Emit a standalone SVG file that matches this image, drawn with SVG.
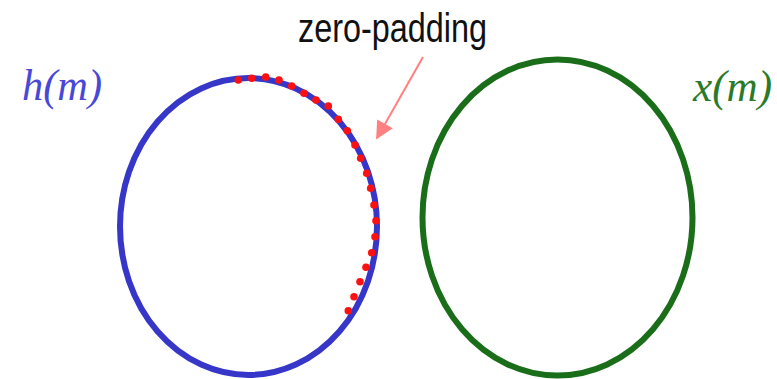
<svg xmlns="http://www.w3.org/2000/svg" width="777" height="379" viewBox="0 0 777 379">
<defs>
<style>
.ring{fill:none;stroke-width:6}
.dot{fill:#ff1010}
.lbl{font-family:"Liberation Serif",serif;font-style:italic;font-size:44px}
</style>
<marker id="ah" viewBox="0 0 10 10" refX="9" refY="5" markerWidth="10" markerHeight="9" orient="auto" markerUnits="strokeWidth">
<path d="M0,0 L10,5 L0,10 z" fill="#ff8080"/>
</marker>
</defs>
<rect width="777" height="379" fill="#ffffff"/>
<g id="h-ring">
<ellipse class="ring" cx="248.5" cy="226.5" rx="128.5" ry="148.5" stroke="#3636c8"/>
<text class="lbl" x="22" y="100" fill="#4848d8" textLength="80" lengthAdjust="spacingAndGlyphs">h(m)</text>
</g>
<g id="zero-padding-dots">
<circle class="dot" cx="238.3" cy="80" r="3.8"/>
<circle class="dot" cx="251.7" cy="78.3" r="3.8"/>
<circle class="dot" cx="265.7" cy="77" r="3.8"/>
<circle class="dot" cx="279" cy="80" r="3.8"/>
<circle class="dot" cx="291.7" cy="86" r="3.8"/>
<circle class="dot" cx="304" cy="93.3" r="3.8"/>
<circle class="dot" cx="316" cy="100" r="3.8"/>
<circle class="dot" cx="328.3" cy="106" r="3.8"/>
<circle class="dot" cx="338.3" cy="119.3" r="3.8"/>
<circle class="dot" cx="347.3" cy="130.7" r="3.8"/>
<circle class="dot" cx="355" cy="145" r="3.8"/>
<circle class="dot" cx="360.7" cy="158.3" r="3.8"/>
<circle class="dot" cx="366.7" cy="173.3" r="3.8"/>
<circle class="dot" cx="370.7" cy="188.3" r="3.8"/>
<circle class="dot" cx="374" cy="205" r="3.8"/>
<circle class="dot" cx="376" cy="220.7" r="3.8"/>
<circle class="dot" cx="375" cy="236.7" r="3.8"/>
<circle class="dot" cx="371.7" cy="252.7" r="3.8"/>
<circle class="dot" cx="366" cy="267.3" r="3.8"/>
<circle class="dot" cx="360" cy="281.7" r="3.8"/>
<circle class="dot" cx="354" cy="296.7" r="3.8"/>
<circle class="dot" cx="348.3" cy="310.7" r="3.8"/>
</g>
<g id="x-ring">
<ellipse class="ring" cx="557.5" cy="217.5" rx="135" ry="158" stroke="#1a6e1a"/>
<text class="lbl" x="693" y="101" fill="#2a7a2a" textLength="79" lengthAdjust="spacingAndGlyphs">x(m)</text>
</g>
<g id="label">
<text x="298" y="42" font-family="Liberation Sans,Arial,sans-serif" font-size="40" fill="#111111" textLength="189" lengthAdjust="spacingAndGlyphs">zero-padding</text>
</g>
<g id="connectors">
<line x1="423" y1="57" x2="377" y2="138" stroke="#ff8080" stroke-width="2" marker-end="url(#ah)"/>
</g>
</svg>
